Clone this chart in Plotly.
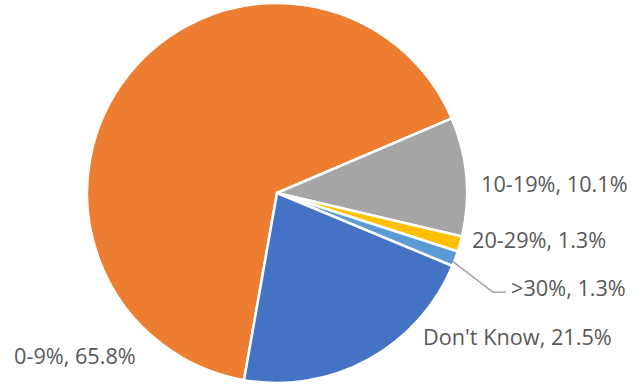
import plotly.graph_objects as go

labels = ["0-9%", "10-19%", "20-29%", ">30%", "Don't Know"]
values = [65.8, 10.1, 1.3, 1.3, 21.5]
colors = ["#ED7D31", "#A5A5A5", "#FFC000", "#5B9BD5", "#4472C4"]

# label anchor positions in pixels (left edge, vertical middle)
label_pos = [(12, 357), (479, 183), (470, 240), (509, 288), (421, 338)]

W, H = 642, 385

fig = go.Figure(go.Pie(
    labels=labels,
    values=values,
    sort=False,
    direction="clockwise",
    rotation=190,
    marker=dict(colors=colors, line=dict(color="white", width=2.5)),
    textinfo="none",
    hoverinfo="label+percent",
    showlegend=False,
    domain=dict(x=[87 / W, 467 / W], y=[0, 1]),
))

for (lab, val), (px, py) in zip(zip(labels, values), label_pos):
    fig.add_annotation(
        x=px / W, y=1 - py / H, xref="paper", yref="paper",
        xanchor="left", yanchor="middle", showarrow=False,
        text=f"{lab}, {val}%",
        font=dict(family="Open Sans", size=21.7, color="#595959"),
    )

# leader line for >30%
fig.add_shape(
    type="path", xref="paper", yref="paper",
    path=f"M {453/W},{1-262/H} L {493/W},{1-293/H} L {506/W},{1-293/H}",
    line=dict(color="#A6A6A6", width=1.5),
)

fig.update_layout(
    width=W, height=H,
    margin=dict(l=0, r=0, t=3, b=2),
    paper_bgcolor="white",
    plot_bgcolor="white",
)

fig.write_html("out.html")
